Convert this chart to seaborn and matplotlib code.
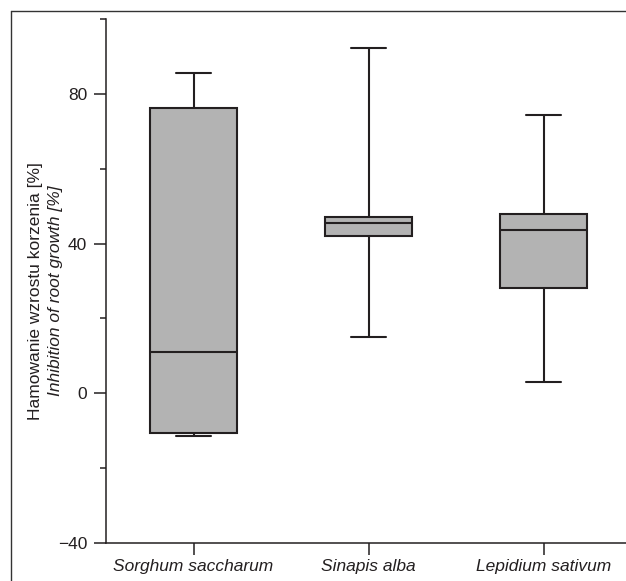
import numpy as np
import pandas as pd
import seaborn as sns
import matplotlib.pyplot as plt
from matplotlib.lines import Line2D
from matplotlib.ticker import MultipleLocator

species = ["Sorghum saccharum", "Sinapis alba", "Lepidium sativum"]
whisker_low = [-11.5, 15.1, 3.0]
q1 = [-10.5, 42.0, 28.2]
median = [11.0, 45.6, 43.6]
q3 = [76.2, 47.0, 47.9]
whisker_high = [85.7, 92.3, 74.3]

# five values per species give exactly these quartiles, whiskers go to min/max
rows = []
for i, sp in enumerate(species):
    for v in (whisker_low[i], q1[i], median[i], q3[i], whisker_high[i]):
        rows.append({"species": sp, "value": v})
df = pd.DataFrame(rows)

ink = "#231f20"
sns.set_style("ticks")
plt.rcParams["font.family"] = ["Liberation Sans Narrow", "Liberation Sans", "DejaVu Sans"]
plt.rcParams["text.color"] = ink
plt.rcParams["xtick.color"] = ink
plt.rcParams["ytick.color"] = ink

fig = plt.figure(figsize=(6.26, 5.81), dpi=100)
ax = fig.add_axes([106 / 626, 38 / 581, 525 / 626, 524 / 581])

sns.boxplot(
    data=df,
    x="species",
    y="value",
    order=species,
    width=0.5,
    whis=np.inf,
    color="#b3b3b3",
    linecolor=ink,
    linewidth=1.5,
    saturation=1,
    capwidths=0.2,
    ax=ax,
)

ax.set_ylim(-40, 100)
ax.set_xlim(-0.5, 2.5)
ax.yaxis.set_major_locator(MultipleLocator(40))
ax.yaxis.set_minor_locator(MultipleLocator(20))
ax.set_yticks([-40, 0, 40, 80])
ax.set_yticklabels(["\u221240", "0", "40", "80"], fontsize=12.5)
ax.set_xticks(range(len(species)))
ax.set_xticklabels(species, fontsize=12.5, style="italic")
ax.tick_params(axis="both", which="major", length=8.5, width=1.1, color=ink)
ax.tick_params(axis="y", which="major", pad=5)
ax.tick_params(axis="x", which="major", pad=3)
ax.tick_params(axis="y", which="minor", length=4.3, width=1.1, color=ink)
ax.set_xlabel("")
ax.set_ylabel("")

sns.despine(ax=ax)
for side in ("left", "bottom"):
    ax.spines[side].set_linewidth(1.1)
    ax.spines[side].set_color(ink)

fig.text(36 / 626, 1 - 291 / 581, "Hamowanie wzrostu korzenia [%]",
         rotation=90, ha="center", va="center", fontsize=12.5)
fig.text(56 / 626, 1 - 291 / 581, "Inhibition of root growth [%]",
         rotation=90, ha="center", va="center", fontsize=12.5, style="italic")

# page frame around the figure (cut off at the right and bottom)
fx = 11 / 626
fy = 1 - 11 / 581
fig.add_artist(Line2D([fx, fx], [0, fy], transform=fig.transFigure, color="#333333", lw=1))
fig.add_artist(Line2D([fx, 1], [fy, fy], transform=fig.transFigure, color="#333333", lw=1))

fig.savefig("out.png", dpi=100)
